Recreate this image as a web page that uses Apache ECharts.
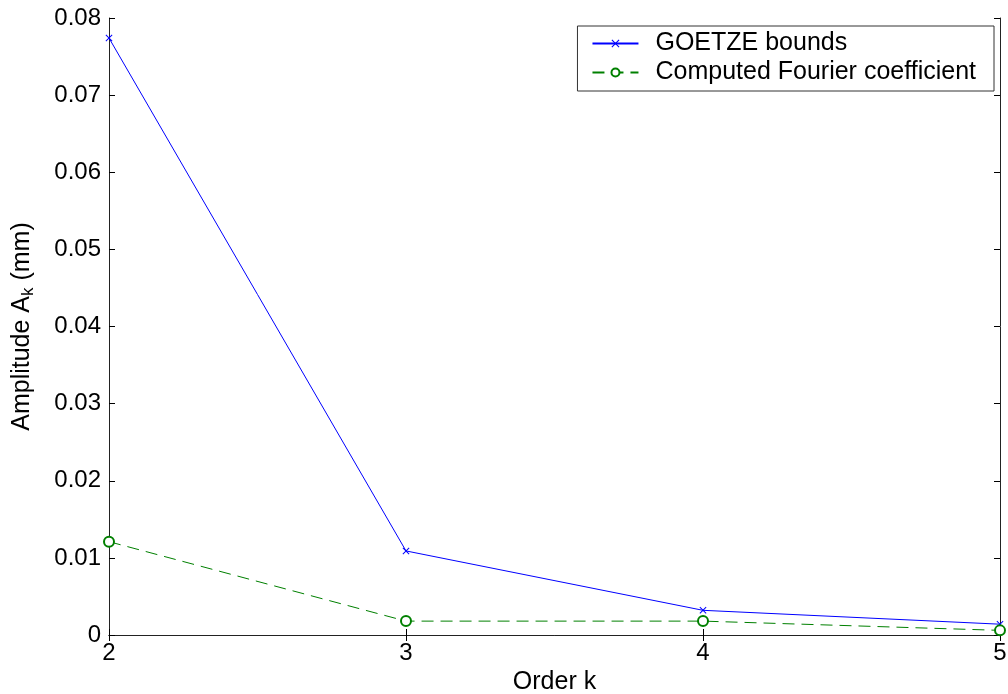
<!DOCTYPE html>
<html>
<head>
<meta charset="utf-8">
<script src="https://cdn.jsdelivr.net/npm/echarts@6/dist/echarts.min.js"></script>
<style>
html,body{margin:0;padding:0;background:#fff;}
#chart{width:1008px;height:694px;}
</style>
</head>
<body>
<div id="chart"></div>
<script>
// Harmonic orders and amplitudes (mm)
const orders = [2, 3, 4, 5];
const goetzeBounds = [0.0774, 0.0109, 0.0032, 0.0014];
const fourierCoeffs = [0.0121, 0.0018, 0.0018, 0.0006];
const yTicks = [0, 0.01, 0.02, 0.03, 0.04, 0.05, 0.06, 0.07, 0.08];

const FONT = 'Liberation Sans, Arial, sans-serif';
const crossPath = 'path://M0,1L1,0L5,4L9,0L10,1L6,5L10,9L9,10L5,6L1,10L0,9L4,5Z';

const chart = echarts.init(document.getElementById('chart'), null, {renderer: 'canvas'});

const tickStyle = {show: true, inside: true, length: 6, lineStyle: {color: '#000', width: 1}};
const lineStyleAxis = {show: true, lineStyle: {color: '#222', width: 1}};

chart.setOption({
  animation: false,
  backgroundColor: '#fff',
  textStyle: {fontFamily: FONT},
  grid: {left: 109, top: 18, right: 8, bottom: 59, containLabel: false, outerBoundsMode: 'none'},
  legend: {
    right: 14, top: 26,
    orient: 'vertical',
    backgroundColor: '#fff',
    borderColor: '#333', borderWidth: 1,
    padding: [5, 18, 6, 14],
    itemGap: 4,
    itemWidth: 46, itemHeight: 10,
    textStyle: {fontFamily: FONT, fontSize: 25, color: '#000', padding: [0, 0, 0, 12]},
    data: ['GOETZE bounds', 'Computed Fourier coefficient']
  },
  xAxis: [{
    type: 'value', min: 2, max: 5, interval: 1,
    name: 'Order k', nameLocation: 'middle', nameGap: 33,
    nameTextStyle: {fontFamily: FONT, fontSize: 25, color: '#000'},
    axisLine: lineStyleAxis, axisTick: tickStyle,
    axisLabel: {fontFamily: FONT, fontSize: 24, color: '#000', margin: 6},
    splitLine: {show: false}
  }, {
    type: 'value', min: 2, max: 5, interval: 1, position: 'top',
    axisLine: lineStyleAxis, axisTick: tickStyle,
    axisLabel: {show: false}, splitLine: {show: false}
  }],
  yAxis: [{
    type: 'value', min: 0, max: 0.08, interval: 0.01,
    name: '{t|Amplitude A}{s|k}{t| (mm)}', nameLocation: 'middle', nameGap: 72, nameRotate: 90,
    nameTextStyle: {
      rich: {
        t: {fontFamily: FONT, fontSize: 25, color: '#000'},
        s: {fontFamily: FONT, fontSize: 17, color: '#000', verticalAlign: 'bottom', padding: [12, 0, 0, 0]}
      }
    },
    axisLine: lineStyleAxis, axisTick: tickStyle,
    axisLabel: {
      fontFamily: FONT, fontSize: 24, color: '#000', margin: 8,
      formatter: v => {
        const t = yTicks.find(x => Math.abs(x - v) < 1e-9);
        return t === 0 ? '0' : (t !== undefined ? t.toFixed(2) : '');
      }
    },
    splitLine: {show: false}
  }, {
    type: 'value', min: 0, max: 0.08, interval: 0.01, position: 'right',
    axisLine: lineStyleAxis, axisTick: tickStyle,
    axisLabel: {show: false}, splitLine: {show: false}
  }],
  series: [{
    name: 'GOETZE bounds',
    type: 'line',
    data: orders.map((o, i) => [o, goetzeBounds[i]]),
    symbol: crossPath, symbolSize: 7,
    lineStyle: {color: '#0000ff', width: 1},
    itemStyle: {color: '#0000ff'},
    clip: false
  }, {
    name: 'Computed Fourier coefficient',
    type: 'line',
    data: orders.map((o, i) => [o, fourierCoeffs[i]]),
    symbol: 'emptyCircle', symbolSize: 10,
    lineStyle: {color: '#008000', width: 1, type: [12, 7]},
    itemStyle: {color: '#008000', borderWidth: 1},
    clip: false
  }]
});
</script>
</body>
</html>
